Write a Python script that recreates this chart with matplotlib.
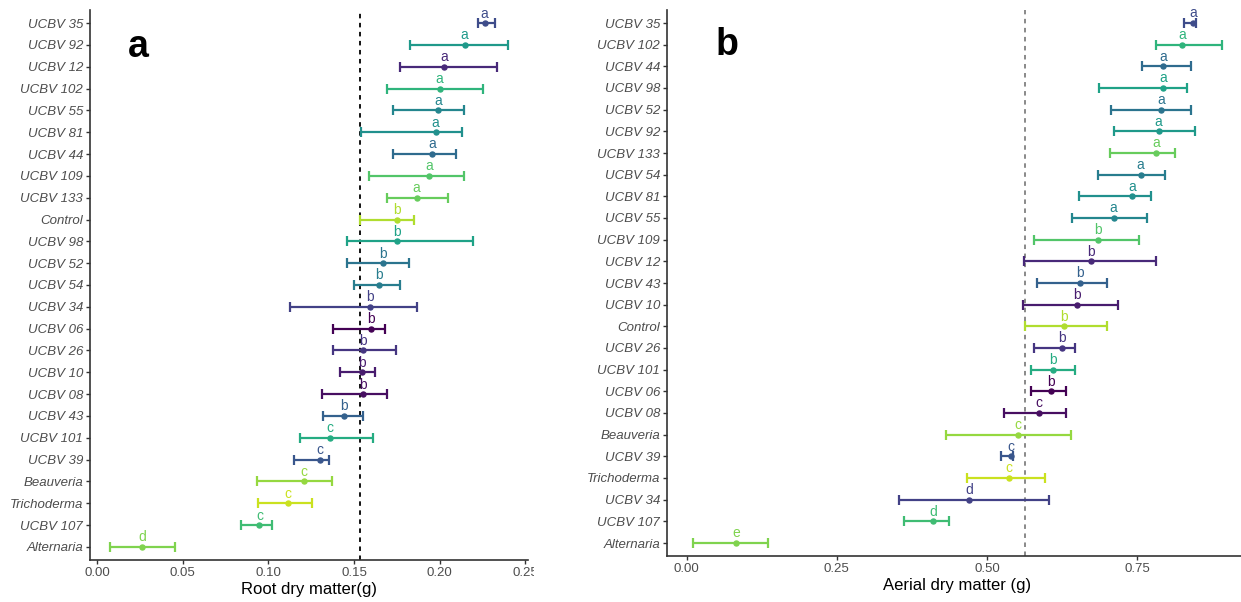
import matplotlib
matplotlib.use("Agg")
import matplotlib.pyplot as plt
from matplotlib.transforms import Bbox, TransformedBbox
import numpy as np

plt.rcParams['font.family'] = ['Liberation Sans', 'DejaVu Sans']

# ---------------- data ----------------
# colour levels (order used for the viridis palette)
levels = ["UCBV 06", "UCBV 08", "UCBV 10", "UCBV 12", "UCBV 26", "UCBV 34", "UCBV 35",
          "UCBV 39", "UCBV 43", "UCBV 44", "UCBV 52", "UCBV 54", "UCBV 55", "UCBV 81",
          "UCBV 92", "UCBV 98", "UCBV 101", "UCBV 102", "UCBV 107", "UCBV 109", "UCBV 133",
          "Alternaria", "Beauveria", "Control", "Trichoderma"]

# Panel a: root dry matter (top to bottom)
root_trt = ["UCBV 35", "UCBV 92", "UCBV 12", "UCBV 102", "UCBV 55", "UCBV 81", "UCBV 44",
            "UCBV 109", "UCBV 133", "Control", "UCBV 98", "UCBV 52", "UCBV 54", "UCBV 34",
            "UCBV 06", "UCBV 26", "UCBV 10", "UCBV 08", "UCBV 43", "UCBV 101", "UCBV 39",
            "Beauveria", "Trichoderma", "UCBV 107", "Alternaria"]
root_mean = [0.2262, 0.2145, 0.2027, 0.2000, 0.1990, 0.1976, 0.1957, 0.1938, 0.1865, 0.1748,
             0.1748, 0.1668, 0.1647, 0.1595, 0.1599, 0.1552, 0.1546, 0.1550, 0.1439, 0.1361,
             0.1303, 0.1209, 0.1112, 0.0948, 0.0261]
root_lo = [0.2223, 0.1828, 0.1766, 0.1690, 0.1727, 0.1542, 0.1727, 0.1589, 0.1690, 0.1536,
           0.1460, 0.1460, 0.1497, 0.1127, 0.1377, 0.1377, 0.1419, 0.1310, 0.1318, 0.1182,
           0.1151, 0.0936, 0.0939, 0.0839, 0.0076]
root_hi = [0.2325, 0.2399, 0.2335, 0.2255, 0.2140, 0.2128, 0.2093, 0.2140, 0.2048, 0.1850,
           0.2196, 0.1818, 0.1766, 0.1867, 0.1678, 0.1742, 0.1620, 0.1692, 0.1550, 0.1610,
           0.1351, 0.1371, 0.1254, 0.1020, 0.0456]
root_grp = ["a", "a", "a", "a", "a", "a", "a", "a", "a", "b", "b", "b", "b", "b", "b", "b",
            "b", "b", "b", "c", "c", "c", "c", "c", "d"]
root_ref = 0.1536

# Panel b: aerial dry matter (top to bottom)
aer_trt = ["UCBV 35", "UCBV 102", "UCBV 44", "UCBV 98", "UCBV 52", "UCBV 92", "UCBV 133",
           "UCBV 54", "UCBV 81", "UCBV 55", "UCBV 109", "UCBV 12", "UCBV 43", "UCBV 10",
           "Control", "UCBV 26", "UCBV 101", "UCBV 06", "UCBV 08", "Beauveria", "UCBV 39",
           "Trichoderma", "UCBV 34", "UCBV 107", "Alternaria"]
aer_mean = [0.843, 0.825, 0.794, 0.793, 0.790, 0.786, 0.782, 0.756, 0.742, 0.711, 0.685,
            0.673, 0.655, 0.650, 0.629, 0.625, 0.610, 0.607, 0.586, 0.552, 0.540, 0.536,
            0.470, 0.410, 0.082]
aer_lo = [0.828, 0.782, 0.758, 0.687, 0.707, 0.712, 0.705, 0.685, 0.653, 0.641, 0.578,
          0.562, 0.584, 0.560, 0.564, 0.579, 0.573, 0.573, 0.529, 0.432, 0.523, 0.467,
          0.354, 0.362, 0.011]
aer_hi = [0.848, 0.892, 0.840, 0.833, 0.840, 0.846, 0.814, 0.796, 0.773, 0.766, 0.754,
          0.782, 0.700, 0.719, 0.700, 0.647, 0.646, 0.632, 0.632, 0.640, 0.544, 0.596,
          0.604, 0.437, 0.136]
aer_grp = ["a", "a", "a", "a", "a", "a", "a", "a", "a", "a", "b", "b", "b", "b", "b", "b",
           "b", "b", "c", "c", "c", "c", "d", "d", "e"]
aer_ref = 0.563

# ---------------- style ----------------
cmap = plt.get_cmap("viridis")
color_of = {lv: cmap(0.92 * i / (len(levels) - 1)) for i, lv in enumerate(levels)}

W, H = 1241, 602
fig = plt.figure(figsize=(W / 100, H / 100), dpi=100)
axA = fig.add_axes([90 / W, 42 / H, 438 / W, 550 / H])
axB = fig.add_axes([667 / W, 46 / H, 581 / W, 546 / H])


def panel(ax, trt, mean, lo, hi, grp, ref, xlim, xticks, xlabel, letter, refcolor):
    y = np.arange(len(trt))
    ax.axvline(ref, color=refcolor, lw=1.3, ls=(0, (2.5, 2.5)), zorder=1)
    for i, t in enumerate(trt):
        c = color_of[t]
        ax.errorbar(mean[i], y[i], xerr=[[mean[i] - lo[i]], [hi[i] - mean[i]]],
                    fmt='o', color=c, ms=3.6, lw=1.6, capsize=3.8, capthick=1.6, zorder=3)
        ax.annotate(grp[i], (mean[i], y[i]), xytext=(0, 4), textcoords='offset points',
                    ha='center', va='baseline', color=c, fontsize=10)
    ax.set_ylim(len(trt) - 0.4, -0.6)
    ax.set_xlim(*xlim)
    ax.set_yticks(y)
    ax.set_yticklabels(trt, fontstyle='italic', fontsize=9.5, color='#4d4d4d')
    ax.set_xticks(xticks)
    ax.set_xticklabels([f"{v:.2f}" for v in xticks], fontsize=9.5, color='#4d4d4d')
    ax.set_xlabel(xlabel, fontsize=12, color='black', labelpad=2)
    for s in ['top', 'right']:
        ax.spines[s].set_visible(False)
    for s in ['left', 'bottom']:
        ax.spines[s].set_color('#333333')
        ax.spines[s].set_linewidth(1.2)
    ax.tick_params(axis='both', length=3, width=1, color='#333333', pad=2)
    ax.text(letter[1], letter[2], letter[0], transform=ax.transAxes, fontsize=27,
            fontweight='bold', ha='center', va='center')


panel(axA, root_trt, root_mean, root_lo, root_hi, root_grp, root_ref,
      (-0.0041, 0.2515), [0.00, 0.05, 0.10, 0.15, 0.20, 0.25], "Root dry matter(g)",
      ("a", (138 - 90) / 438, 1 - (47 - 10) / 550), 'black')
panel(axB, aer_trt, aer_mean, aer_lo, aer_hi, aer_grp, aer_ref,
      (-0.033, 0.935), [0.00, 0.25, 0.50, 0.75], "Aerial dry matter (g)",
      ("b", (727 - 667) / 581, 1 - (45 - 10) / 546), '#808080')

# panel a was cropped on its right side in the composite figure
clip = TransformedBbox(Bbox([[0, 0], [534 / W, 1]]), fig.transFigure)
for lbl in axA.get_xticklabels():
    lbl.set_clip_box(clip)
    lbl.set_clip_on(True)

fig.savefig("out.png", dpi=100)
